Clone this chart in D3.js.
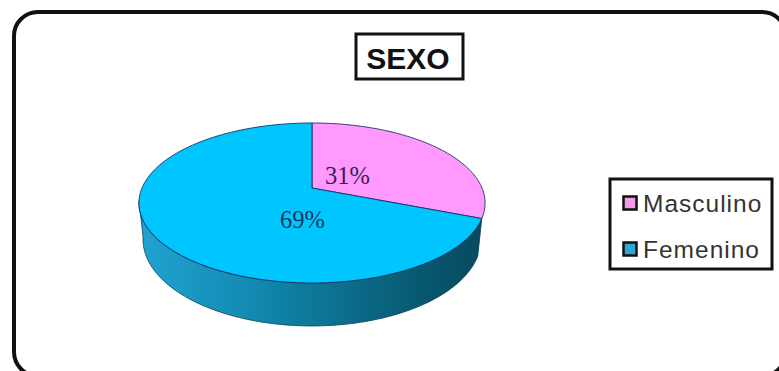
<!DOCTYPE html>
<html>
<head>
<meta charset="utf-8">
<script src="https://cdn.jsdelivr.net/npm/d3@7"></script>
<style>
html,body{margin:0;padding:0;background:#fff;}
svg{display:block;}
</style>
</head>
<body>
<svg id="chart" width="779" height="371"></svg>
<script>
const categories = ["Masculino", "Femenino"];
const values = [31, 69];
const labels = ["31%", "69%"];
const topColors = ["#ff99ff", "#00c6ff"];
const legendColors = ["#f29be6", "#2ea6d6"];
const labelColors = ["#3a1c55", "#0c3560"];
const title = "SEXO";

const svg = d3.select("#chart");

// Rounded outer frame, open past the window's right and bottom edges
svg.append("rect")
  .attr("x", 14).attr("y", 12)
  .attr("width", 772).attr("height", 364)
  .attr("rx", 24).attr("ry", 24)
  .attr("fill", "#fff").attr("stroke", "#111").attr("stroke-width", 4);

// Title box
svg.append("rect")
  .attr("x", 356).attr("y", 34).attr("width", 107).attr("height", 45)
  .attr("fill", "#fff").attr("stroke", "#111").attr("stroke-width", 3);
svg.append("text")
  .attr("x", 408).attr("y", 69)
  .attr("text-anchor", "middle")
  .attr("font-family", "Liberation Sans, Arial, sans-serif")
  .attr("font-weight", "bold").attr("font-size", 30)
  .attr("fill", "#111").text(title);

// Perspective projection of the pie disc onto the page
const cx = 312;
const project = (angle, r, d, a, b, c) => {
  const x = r * Math.sin(angle), y = -r * Math.cos(angle);
  const w = 1 + c * y;
  return [cx + d * x / w, (a * y + b) / w];
};
const topFace = (angle, r = 1) => project(angle, r, 170, 41.94, 188, -0.1875);
const baseFace = (angle) => project(angle, 1, 166, 41.94, 222.9, -0.1875);

const arcs = d3.pie().value(d => d).sort(null)(values);
const line = d3.line();
const steps = (a0, a1) => d3.range(0, 121).map(i => a0 + (a1 - a0) * i / 120);

// Side wall, visible along the front edge of the disc
const defs = svg.append("defs");
const wallGrad = defs.append("linearGradient").attr("id", "wall")
  .attr("gradientUnits", "userSpaceOnUse")
  .attr("x1", 142).attr("x2", 482).attr("y1", 0).attr("y2", 0);
[[0, "#1fa3d0"], [0.3, "#138cb4"], [0.55, "#0c7393"], [0.8, "#085a72"], [1, "#074a5e"]]
  .forEach(([o, col]) => wallGrad.append("stop").attr("offset", o).attr("stop-color", col));

const wallStart = arcs[1].startAngle, wallEnd = 4.55;
const wallPath = steps(wallStart, wallEnd);
const wallPoints = wallPath.map(t => topFace(t)).concat(wallPath.slice().reverse().map(t => baseFace(t)));
svg.append("path")
  .attr("d", line(wallPoints) + "Z")
  .attr("fill", "url(#wall)")
  .attr("stroke", "#0a3d52").attr("stroke-width", 0.8);

// Top face slices
svg.selectAll("path.slice").data(arcs).join("path")
  .attr("class", "slice")
  .attr("d", d => line([topFace(0, 0)].concat(steps(d.startAngle, d.endAngle).map(t => topFace(t)))) + "Z")
  .attr("fill", (d, i) => topColors[i])
  .attr("stroke", "#1c2f66").attr("stroke-width", 0.9)
  .attr("stroke-linejoin", "round");

// Percentage labels
const labelPos = [[347.5, 184], [302.5, 228]];
svg.selectAll("text.pct").data(labels).join("text")
  .attr("class", "pct")
  .attr("x", (d, i) => labelPos[i][0]).attr("y", (d, i) => labelPos[i][1])
  .attr("text-anchor", "middle")
  .attr("font-family", "Liberation Serif, Times New Roman, serif")
  .attr("font-size", 24.5)
  .attr("fill", (d, i) => labelColors[i])
  .text(d => d);

// Legend
svg.append("rect")
  .attr("x", 610).attr("y", 179).attr("width", 162).attr("height", 90)
  .attr("fill", "#fff").attr("stroke", "#111").attr("stroke-width", 3);
const legendY = d3.scalePoint().domain(categories).range([203, 249]);
const entry = svg.selectAll("g.entry").data(categories).join("g")
  .attr("class", "entry")
  .attr("transform", d => `translate(0,${legendY(d)})`);
entry.append("rect")
  .attr("x", 623.5).attr("y", -6.5).attr("width", 13).attr("height", 13)
  .attr("fill", (d, i) => legendColors[i])
  .attr("stroke", "#111").attr("stroke-width", 2.5);
entry.append("text")
  .attr("x", 643).attr("y", 8.5)
  .attr("font-family", "Liberation Sans, Arial, sans-serif")
  .attr("font-size", 24.5)
  .attr("letter-spacing", 1)
  .attr("fill", "#333")
  .text(d => d);
</script>
</body>
</html>
